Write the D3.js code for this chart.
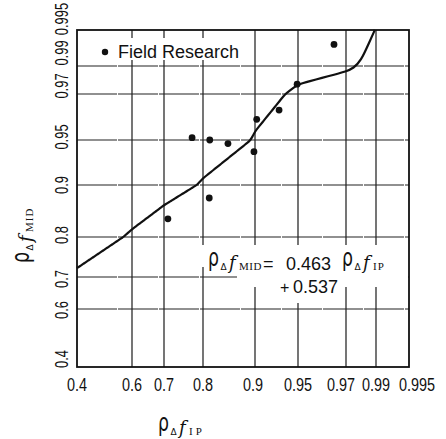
<!DOCTYPE html>
<html>
<head>
<meta charset="utf-8">
<script src="https://cdn.jsdelivr.net/npm/d3@7"></script>
<style>
  html, body { margin: 0; padding: 0; background: #fff; }
  svg { display: block; }
</style>
</head>
<body>
<svg id="chart" width="446" height="439"></svg>
<script>
// Tick values of the ruled probability paper (same on both axes)
const xTicks = [0.4, 0.6, 0.7, 0.8, 0.9, 0.95, 0.97, 0.99, 0.995];
const yTicks = [0.4, 0.6, 0.7, 0.8, 0.9, 0.95, 0.97, 0.99, 0.995];
const xTickLabels = ["0.4", "0.6", "0.7", "0.8", "0.9", "0.95", "0.97", "0.99", "0.995"];
const yTickLabels = ["0.4", "0.6", "0.7", "0.8", "0.9", "0.95", "0.97", "0.99", "0.995"];

// Field research observations: correlation at IP vs. correlation at MID
const rhoIP  = [0.710, 0.772, 0.812, 0.813, 0.848, 0.898, 0.902, 0.928, 0.949, 0.965];
const rhoMID = [0.835, 0.951, 0.875, 0.950, 0.946, 0.937, 0.959, 0.963, 0.977, 0.993];

// Fitted relation  rho_MID = 0.463 rho_IP + 0.537
const fitSlope = 0.463;
const fitIntercept = 0.537;

const legendLabel = "Field Research";

// ---------------------------------------------------------------------------
const svg = d3.select("#chart");
const frame = { left: 77, top: 30, right: 409, bottom: 367 };

// The paper's rulings are unevenly spaced, so each axis is a piecewise-linear
// scale whose breakpoints are the ruled values.
const xGridOffsets = [0, 55, 87, 126, 178, 221, 269, 299, 332];
const yGridOffsets = [0, 58, 90, 130, 182, 227, 273, 301, 337];

const x = d3.scaleLinear()
  .domain(xTicks)
  .range(xGridOffsets.map(o => frame.left + o))
  .clamp(true);
const y = d3.scaleLinear()
  .domain(yTicks)
  .range(yGridOffsets.map(o => frame.bottom - o))
  .clamp(true);

const ink = "#111";
const tickFont = "'Liberation Sans', Arial, sans-serif";

// Grid
const grid = svg.append("g");
grid.selectAll("line.v")
  .data(xTicks.slice(1, -1))
  .join("line")
  .attr("x1", d => x(d)).attr("x2", d => x(d))
  .attr("y1", frame.top).attr("y2", frame.bottom)
  .attr("stroke", "#1a1a1a").attr("stroke-width", 1.2);
grid.selectAll("line.h")
  .data(yTicks.slice(1, -1))
  .join("line")
  .attr("x1", frame.left).attr("x2", frame.right)
  .attr("y1", d => y(d)).attr("y2", d => y(d))
  .attr("stroke", "#222").attr("stroke-width", 1.2)
  .attr("stroke-dasharray", "40 1");

// White label panels laid over the rulings (short stubs of the grid stay visible)
const panels = svg.append("g").attr("fill", "#fff");
panels.append("rect").attr("x", frame.left + 1).attr("y", 38).attr("width", 168).attr("height", 22);
panels.append("rect").attr("x", 196).attr("y", 245).attr("width", frame.right - 197).attr("height", 22);
panels.append("rect").attr("x", 237).attr("y", 267).attr("width", frame.right - 238).attr("height", 20);
panels.append("rect").attr("x", 275).attr("y", 286).attr("width", 66).attr("height", 17);

// Frame
svg.append("rect")
  .attr("x", frame.left).attr("y", frame.top)
  .attr("width", frame.right - frame.left).attr("height", frame.bottom - frame.top)
  .attr("fill", "none").attr("stroke", ink).attr("stroke-width", 1.8);

// X tick labels (the crowded high end is nudged apart)
const xLabelNudge = [0, 0, 0, 0, -2, 0, -5, 0, 8];
svg.append("g").selectAll("text")
  .data(xTicks)
  .join("text")
  .attr("transform", (d, i) => `translate(${x(d) + xLabelNudge[i]},391) scale(0.76,1)`)
  .attr("text-anchor", "middle")
  .attr("font-family", tickFont).attr("font-size", 19).attr("fill", ink)
  .text((d, i) => xTickLabels[i]);

// Y tick labels (rotated; crowded high end nudged apart)
const yLabelNudge = [-8, 1, 2, -2, 0, -3, -8, -13, -11];
svg.append("g").selectAll("text")
  .data(yTicks)
  .join("text")
  .attr("transform", (d, i) => `translate(68,${y(d) + yLabelNudge[i]}) rotate(-90) scale(0.68,1)`)
  .attr("text-anchor", "middle")
  .attr("font-family", tickFont).attr("font-size", 19).attr("fill", ink)
  .text((d, i) => yTickLabels[i]);

// Regression line drawn from the fitted equation
const xEnd = (yTicks[yTicks.length - 1] - fitIntercept) / fitSlope;
const xs = d3.range(xTicks[0], xEnd, 0.005).concat([xEnd]);
const line = d3.line()
  .x(d => x(d))
  .y(d => y(fitSlope * d + fitIntercept))
  .curve(d3.curveBasis);
svg.append("path")
  .datum(xs)
  .attr("d", line)
  .attr("fill", "none").attr("stroke", ink).attr("stroke-width", 2.2);

// Observations
svg.append("g").selectAll("circle")
  .data(rhoIP.map((v, i) => [v, rhoMID[i]]))
  .join("circle")
  .attr("cx", d => x(d[0])).attr("cy", d => y(d[1]))
  .attr("r", 3.4).attr("fill", ink);

// Legend
svg.append("circle").attr("cx", 105).attr("cy", 52).attr("r", 3.2).attr("fill", ink);
svg.append("text")
  .attr("x", 118).attr("y", 58)
  .attr("font-family", tickFont).attr("font-size", 18).attr("fill", ink)
  .text(legendLabel);

// rho-symbol label helper: narrow ρ, Δ, f and a small-caps subscript
function rhoLabel(g, sub, spacing) {
  g.append("text").attr("transform", "translate(0,-4) scale(0.72,1)")
    .attr("font-family", "'DejaVu Sans', sans-serif").attr("font-size", 24).attr("fill", ink)
    .text("ρ");
  g.append("text").attr("x", 12.5).attr("y", 0)
    .attr("font-family", "'DejaVu Sans', sans-serif").attr("font-size", 9).attr("fill", ink)
    .text("Δ");
  g.append("text").attr("x", 21).attr("y", -1)
    .attr("font-family", "'DejaVu Serif', serif").attr("font-style", "italic")
    .attr("font-size", 18).attr("fill", ink)
    .text("f");
  g.append("text").attr("x", 31).attr("y", 0)
    .attr("font-family", "'Liberation Serif', serif").attr("font-size", 11)
    .attr("letter-spacing", spacing).attr("fill", ink)
    .text(sub);
}

// Equation
const eq = svg.append("g");
rhoLabel(eq.append("g").attr("transform", "translate(208,270)"), "MID", 0.5);
eq.append("text").attr("x", 263).attr("y", 270)
  .attr("font-family", tickFont).attr("font-size", 18).attr("fill", ink)
  .text("=");
eq.append("text").attr("x", 286).attr("y", 270)
  .attr("font-family", tickFont).attr("font-size", 18).attr("fill", ink)
  .text(String(fitSlope));
rhoLabel(eq.append("g").attr("transform", "translate(342,270)"), "IP", 1);
eq.append("text").attr("x", 280).attr("y", 293)
  .attr("font-family", tickFont).attr("font-size", 16).attr("fill", ink)
  .text("+");
eq.append("text").attr("x", 293).attr("y", 293)
  .attr("font-family", tickFont).attr("font-size", 18).attr("fill", ink)
  .text(String(fitIntercept));

// Axis titles
rhoLabel(svg.append("g").attr("transform", "translate(158,435)"), "IP", 3);
rhoLabel(svg.append("g").attr("transform", "translate(33,263) rotate(-90)"), "MID", 1);
</script>
</body>
</html>
